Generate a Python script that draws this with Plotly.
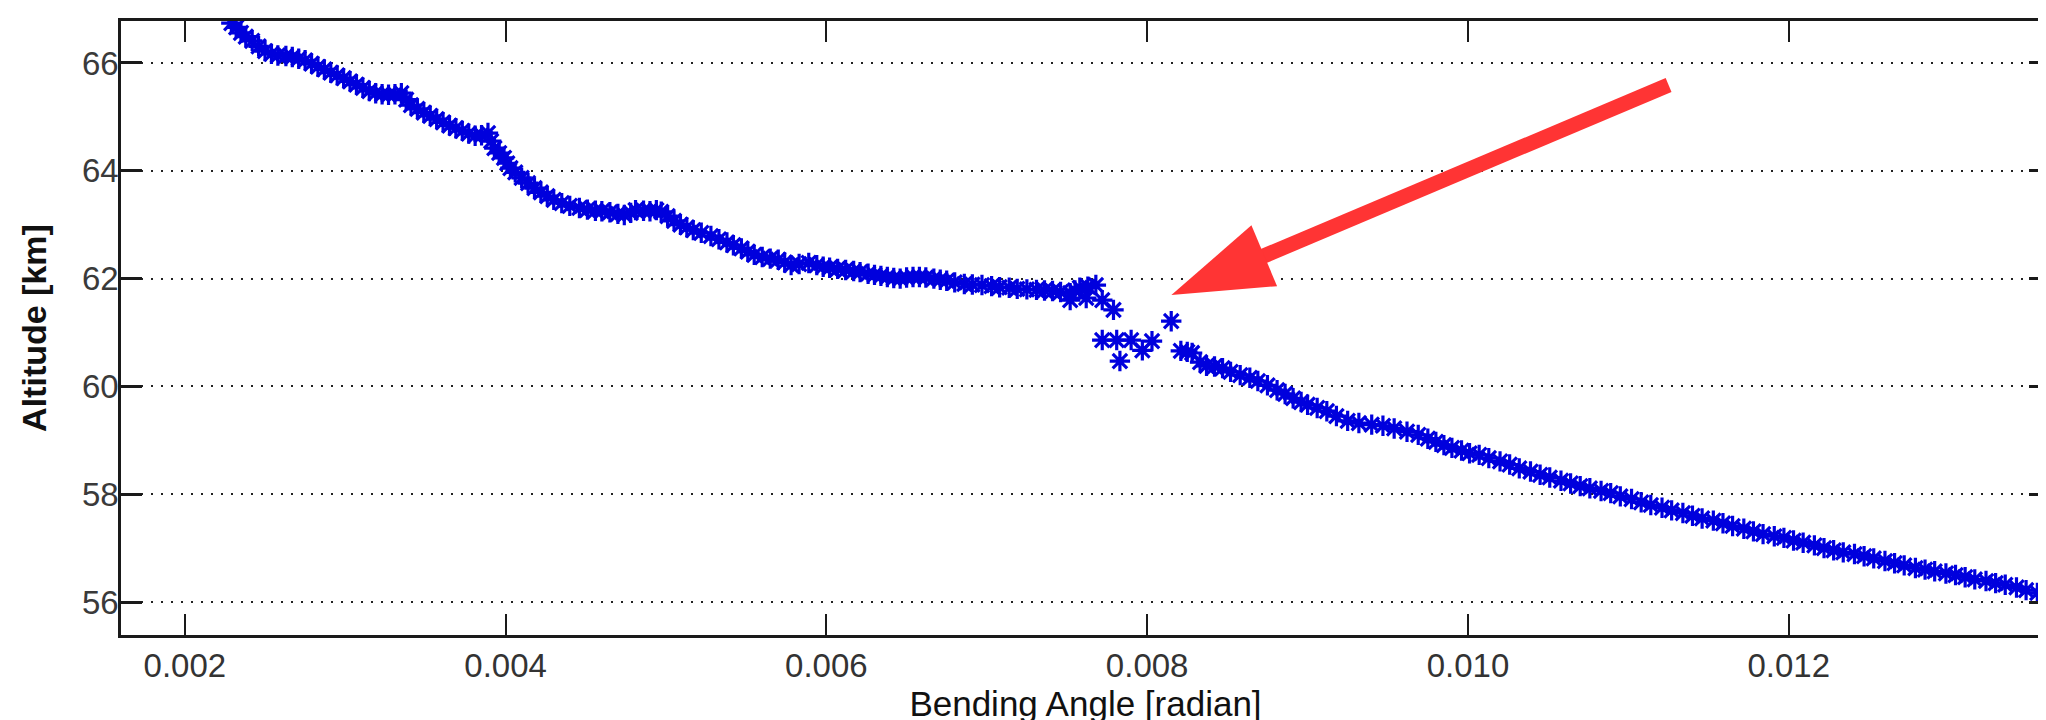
import plotly.graph_objs as go

# ---- bending angle profile ----
bend_angle = [
    0.00229, 0.00232, 0.00235, 0.00238, 0.00242, 0.00246, 0.00250, 0.00254, 0.00258, 0.00263,
    0.00267, 0.00271, 0.00275, 0.00279, 0.00283, 0.00287, 0.00291, 0.00295, 0.00299, 0.00303,
    0.00307, 0.00311, 0.00315, 0.00319, 0.00323, 0.00327, 0.00331, 0.00335, 0.00338, 0.00341,
    0.00345, 0.00349, 0.00353, 0.00357, 0.00361, 0.00365, 0.00369, 0.00373, 0.00377, 0.00381,
    0.00385, 0.00389, 0.00391, 0.00393, 0.00396, 0.00399, 0.00401, 0.00403, 0.00406, 0.00410,
    0.00414, 0.00418, 0.00422, 0.00426, 0.00430, 0.00435, 0.00440, 0.00446, 0.00451, 0.00456,
    0.00460, 0.00465, 0.00470, 0.00474, 0.00478, 0.00481, 0.00486, 0.00490, 0.00494, 0.00497,
    0.00501, 0.00505, 0.00509, 0.00513, 0.00517, 0.00522, 0.00528, 0.00533, 0.00538, 0.00542,
    0.00547, 0.00551, 0.00555, 0.00560, 0.00565, 0.00570, 0.00574, 0.00578, 0.00583, 0.00589,
    0.00594, 0.00598, 0.00602, 0.00607, 0.00612, 0.00617, 0.00621, 0.00626, 0.00630, 0.00634,
    0.00638, 0.00642, 0.00646, 0.00650, 0.00654, 0.00658, 0.00662, 0.00667, 0.00671, 0.00675,
    0.00680, 0.00686, 0.00691, 0.00697, 0.00703, 0.00708, 0.00714, 0.00719, 0.00725, 0.00731,
    0.00736, 0.00741, 0.00746, 0.00752, 0.00755, 0.00758, 0.00763, 0.00768, 0.00752, 0.00762,
    0.00772, 0.00779, 0.00772, 0.00781, 0.00790, 0.00783, 0.00797, 0.00803, 0.00815, 0.00821,
    0.00825, 0.00828, 0.00833, 0.00837, 0.00842, 0.00847, 0.00852, 0.00858, 0.00864, 0.00869,
    0.00875, 0.00881, 0.00886, 0.00891, 0.00896, 0.00900, 0.00906, 0.00912, 0.00918, 0.00925,
    0.00932, 0.00940, 0.00947, 0.00954, 0.00962, 0.00969, 0.00975, 0.00980, 0.00985, 0.00990,
    0.00996, 0.01001, 0.01007, 0.01013, 0.01020, 0.01026, 0.01032, 0.01039, 0.01045, 0.01051,
    0.01058, 0.01064, 0.01070, 0.01076, 0.01083, 0.01089, 0.01095, 0.01102, 0.01108, 0.01114,
    0.01121, 0.01127, 0.01134, 0.01140, 0.01146, 0.01153, 0.01159, 0.01165, 0.01172, 0.01178,
    0.01184, 0.01191, 0.01197, 0.01203, 0.01209, 0.01216, 0.01222, 0.01228, 0.01234, 0.01241,
    0.01247, 0.01253, 0.01260, 0.01266, 0.01272, 0.01279, 0.01285, 0.01291, 0.01298, 0.01304,
    0.01310, 0.01316, 0.01323, 0.01329, 0.01335, 0.01342, 0.01348, 0.01355, 0.01361,
]
altitude = [
    66.74, 66.66, 66.56, 66.49, 66.41, 66.31, 66.22, 66.17, 66.14, 66.13,
    66.11, 66.08, 66.05, 65.99, 65.93, 65.88, 65.82, 65.77, 65.72, 65.66,
    65.60, 65.54, 65.48, 65.44, 65.42, 65.41, 65.42, 65.44, 65.32, 65.22,
    65.15, 65.08, 65.02, 64.96, 64.90, 64.84, 64.79, 64.74, 64.69, 64.65,
    64.66, 64.70, 64.55, 64.42, 64.33, 64.24, 64.14, 64.05, 63.97, 63.87,
    63.77, 63.68, 63.60, 63.53, 63.46, 63.40, 63.35, 63.31, 63.28, 63.26,
    63.25, 63.23, 63.20, 63.18, 63.22, 63.27, 63.26, 63.25, 63.27, 63.24,
    63.16, 63.07, 63.00, 62.95, 62.90, 62.85, 62.79, 62.73, 62.67, 62.62,
    62.56, 62.50, 62.44, 62.40, 62.37, 62.35, 62.30, 62.25, 62.27, 62.29,
    62.25, 62.22, 62.20, 62.18, 62.16, 62.14, 62.12, 62.09, 62.07, 62.05,
    62.03, 62.01, 62.00, 62.02, 62.03, 62.03, 62.02, 62.00, 61.98, 61.96,
    61.93, 61.90, 61.89, 61.88, 61.86, 61.84, 61.83, 61.81, 61.80, 61.79,
    61.78, 61.77, 61.75, 61.73, 61.78, 61.83, 61.85, 61.88, 61.60, 61.64,
    61.60, 61.42, 60.86, 60.86, 60.86, 60.47, 60.67, 60.84, 61.21, 60.66,
    60.64, 60.62, 60.45, 60.38, 60.37, 60.34, 60.27, 60.21, 60.16, 60.10,
    60.02, 59.93, 59.86, 59.78, 59.71, 59.66, 59.60, 59.54, 59.45, 59.36,
    59.32, 59.29, 59.27, 59.22, 59.16, 59.10, 59.03, 58.97, 58.91, 58.86,
    58.81, 58.76, 58.73, 58.67, 58.61, 58.55, 58.48, 58.42, 58.36, 58.31,
    58.25, 58.20, 58.15, 58.11, 58.06, 58.02, 57.96, 57.91, 57.85, 57.80,
    57.75, 57.70, 57.65, 57.60, 57.55, 57.51, 57.46, 57.41, 57.36, 57.31,
    57.26, 57.22, 57.19, 57.14, 57.10, 57.05, 57.00, 56.96, 56.92, 56.89,
    56.85, 56.81, 56.76, 56.72, 56.68, 56.63, 56.60, 56.57, 56.53, 56.50,
    56.46, 56.42, 56.39, 56.35, 56.32, 56.27, 56.22, 56.17, 56.09,
]

x_ticks = [0.002, 0.004, 0.006, 0.008, 0.010, 0.012]
x_tick_text = ['0.002', '0.004', '0.006', '0.008', '0.010', '0.012']
y_ticks = [56, 58, 60, 62, 64, 66]

x_lim = [0.001602, 0.013629]
y_lim = [55.388, 66.779]

# --- figure / plot box in pixels
W, H = 2046, 720
ML, MR, MT, MB = 113, 1, 13, 93

def px2x(px):
    return x_lim[0] + (px - ML) / (W - ML - MR) * (x_lim[1] - x_lim[0])

def px2y(py):
    return y_lim[1] - (py - MT) / (H - MT - MB) * (y_lim[1] - y_lim[0])

# --- red arrow (tail, tip, head size in pixels)
tail = (1663, 77)
tip = (1165, 287)
head_len, head_half = 101, 33
dx, dy = tail[0] - tip[0], tail[1] - tip[1]
d = (dx * dx + dy * dy) ** 0.5
ux, uy = dx / d, dy / d
base = (tip[0] + ux * head_len, tip[1] + uy * head_len)
c1 = (base[0] - uy * head_half, base[1] + ux * head_half)
c2 = (base[0] + uy * head_half, base[1] - ux * head_half)
red = '#FF3434'

trace0 = go.Scatter(
    x=bend_angle, y=altitude, mode='markers',
    marker=dict(symbol='asterisk-open', size=17, color='#0000DD',
                line=dict(color='#0000C8', width=3.2)),
    showlegend=False, hoverinfo='skip'
)

fig = go.Figure(data=[trace0])

fig.add_shape(type='line', xref='x', yref='y', layer='above',
              x0=px2x(base[0] - ux * 2), y0=px2y(base[1] - uy * 2),
              x1=px2x(tail[0]), y1=px2y(tail[1]),
              line=dict(color=red, width=15))
fig.add_shape(type='path', xref='x', yref='y', layer='above',
              path='M %f,%f L %f,%f L %f,%f Z' % (px2x(tip[0]), px2y(tip[1]),
                                                  px2x(c1[0]), px2y(c1[1]),
                                                  px2x(c2[0]), px2y(c2[1])),
              fillcolor=red, line=dict(width=0))

axis_common = dict(showline=True, linecolor='#1a1a1a', linewidth=2.5, mirror='ticks',
                   ticks='inside', ticklen=21, tickcolor='#1a1a1a', zeroline=False)

fig.update_layout(
    width=W, height=H,
    margin=dict(l=ML, r=MR, t=MT, b=MB, pad=0),
    paper_bgcolor='white', plot_bgcolor='white',
    font=dict(family='Arial, Liberation Sans, sans-serif', color='#333333'),
    xaxis=dict(range=x_lim, tickvals=x_ticks, ticktext=x_tick_text, tickwidth=1.8,
               showgrid=False, tickfont=dict(size=33, color='#333333'),
               title=dict(text='Bending Angle [radian]', standoff=5,
                          font=dict(size=35, color='#111111')),
               **axis_common),
    yaxis=dict(range=y_lim, tickvals=y_ticks, tickwidth=3,
               showgrid=True, gridcolor='#222222', gridwidth=1.5, griddash='2px,8px',
               tickfont=dict(size=33, color='#3a3a3a'), ticklabelstandoff=-7,
               title=dict(text='<b>Altitude [km]</b>', standoff=26,
                          font=dict(size=34, color='#111111')),
               **axis_common),
)

fig.write_html('out.html')
